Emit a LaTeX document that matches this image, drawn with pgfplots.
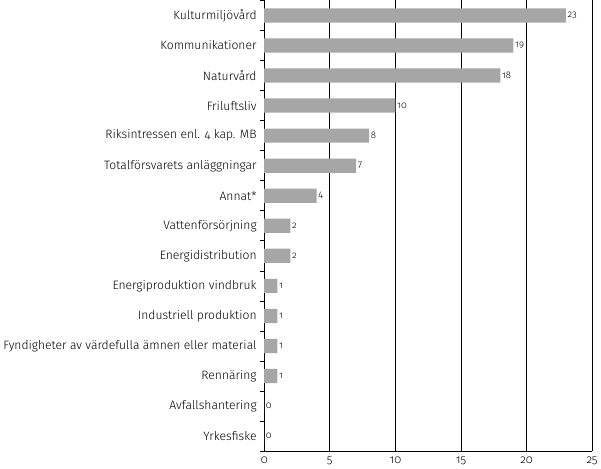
\documentclass[border=0pt]{standalone}
\usepackage{pgfplots}
\pgfplotsset{compat=1.18}
\usepackage{fontspec}
\setmainfont{Fira Sans Light}[Numbers=OldStyle]
\definecolor{bargray}{RGB}{166,166,166}
\begin{document}
\begin{tikzpicture}[x=1bp,y=1bp]
\begin{axis}[
  scale only axis,
  width=323bp, height=444bp,
  xbar, bar width=14bp,
  xmin=0, xmax=25,
  ymin=0.5, ymax=15.5,
  y dir=reverse,
  axis x line*=bottom,
  axis y line*=left,
  axis line style={-, black, line width=0.8pt},
  xtick={0,5,...,25},
  xticklabels={0,5,10,15,20,25},
  xmajorgrids,
  major grid style={black, line width=0.7pt},
  major tick length=0pt,
  ytick={1,...,15},
  yticklabels={Kulturmiljövård, Kommunikationer, Naturvård, Friluftsliv,
    {Riksintressen enl. 4 kap. MB}, Totalförsvarets anläggningar, Annat*,
    Vattenförsörjning, Energidistribution, Energiproduktion vindbruk,
    Industriell produktion, Fyndigheter av värdefulla ämnen eller material,
    Rennäring, Avfallshantering, Yrkesfiske},
  minor ytick={0.5,1.5,...,15.5},
  minor tick length=4bp,
  tick align=outside,
  tick style={black, line width=0.7pt},
  yticklabel style={font=\fontsize{12}{14}\selectfont, xshift=-4bp},
  xticklabel style={font=\fontsize{11.5}{13}\selectfont, yshift=-2bp},
  /pgf/number format/assume math mode=true,
  nodes near coords,
  every node near coord/.append style={font=\fontsize{9.5}{11}\selectfont, anchor=west, inner sep=1.5bp},
]
\addplot[fill=bargray, draw=none] coordinates {
  (23,1) (19,2) (18,3) (10,4) (8,5) (7,6) (4,7) (2,8) (2,9) (1,10) (1,11) (1,12) (1,13) (0,14) (0,15)
};
\end{axis}
\end{tikzpicture}
\end{document}
